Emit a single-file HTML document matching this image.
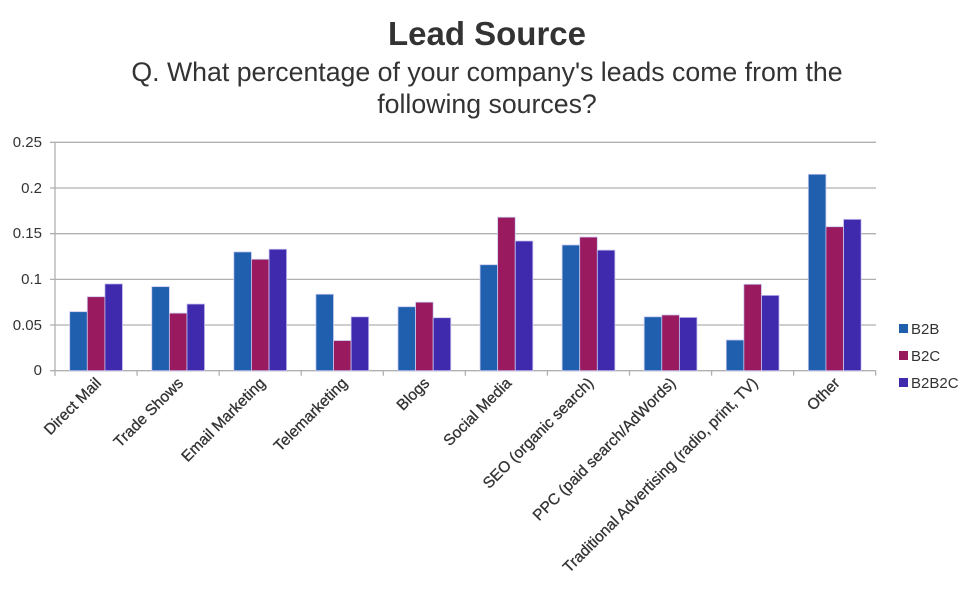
<!DOCTYPE html>
<html><head><meta charset="utf-8"><style>
body{margin:0;background:#fff}
svg{font-family:"Liberation Sans",sans-serif}
</style></head><body>
<svg width="975" height="592" xmlns="http://www.w3.org/2000/svg">
<rect width="975" height="592" fill="#fff"/>
<text x="487" y="45" text-anchor="middle" font-size="33" font-weight="bold" fill="#333">Lead Source</text>
<text x="487" y="81" text-anchor="middle" font-size="26.7" fill="#333">Q. What percentage of your company's leads come from the</text>
<text x="487" y="113" text-anchor="middle" font-size="26.7" fill="#333">following sources?</text>
<g stroke="#b0b0b0" stroke-width="1.3">
<line x1="50" y1="142.3" x2="876" y2="142.3"/>
<line x1="50" y1="188" x2="876" y2="188"/>
<line x1="50" y1="233.7" x2="876" y2="233.7"/>
<line x1="50" y1="279.4" x2="876" y2="279.4"/>
<line x1="50" y1="325" x2="876" y2="325"/>
<line x1="50" y1="370.7" x2="876" y2="370.7"/>
<line x1="55" y1="142.3" x2="55" y2="376"/>
</g>
<g font-size="15" fill="#333" text-anchor="end">
<text x="42" y="147">0.25</text><text x="42" y="193">0.2</text><text x="42" y="238">0.15</text><text x="42" y="284">0.1</text><text x="42" y="330">0.05</text><text x="42" y="375">0</text>
</g>
<g id="bars" stroke="#c8c8f0" stroke-width="0.8"></g>
<g id="ticks" stroke="#b0b0b0" stroke-width="1.3"></g>
<g id="labels" font-size="15.5" fill="#333" stroke="#333" stroke-width="0.3" text-anchor="end"></g>
<g font-size="15" fill="#333">
<rect x="899" y="324" width="9" height="9" fill="#1f5fad"/><text x="911" y="334">B2B</text>
<rect x="899" y="351" width="9" height="9" fill="#9a1a5f"/><text x="911" y="361">B2C</text>
<rect x="899" y="378" width="9" height="9" fill="#3f2aad"/><text x="911" y="388">B2B2C</text>
</g>
<script>
var d=[[.0646,.081,.095],[.092,.063,.073],[.13,.122,.133],[.0837,.033,.059],[.070,.075,.058],[.116,.168,.142],[.1376,.1463,.132],[.059,.061,.0584],[.0336,.0946,.0825],[.215,.1576,.1657]];
var n=["Direct Mail","Trade Shows","Email Marketing","Telemarketing","Blogs","Social Media","SEO (organic search)","PPC (paid search/AdWords)","Traditional Advertising (radio, print, TV)","Other"];
var c=["#1f5fad","#9a1a5f","#3f2aad"],ns="http://www.w3.org/2000/svg";
var B=document.getElementById("bars"),T=document.getElementById("ticks"),L=document.getElementById("labels");
var w=82.07,y0=370.7,k=913.6;
for(var i=0;i<10;i++){var x=55+i*w;
for(var j=0;j<3;j++){var r=document.createElementNS(ns,"rect");var h=d[i][j]*k;
r.setAttribute("x",x+14.7+j*17.6);r.setAttribute("y",y0-h);r.setAttribute("width",17.6);r.setAttribute("height",h);r.setAttribute("fill",c[j]);B.appendChild(r);}
var t=document.createElementNS(ns,"line");t.setAttribute("x1",x+w);t.setAttribute("x2",x+w);t.setAttribute("y1",y0);t.setAttribute("y2",y0+5);T.appendChild(t);
var cx=x+w/2+6,cy=384;var s=document.createElementNS(ns,"text");s.setAttribute("x",cx);s.setAttribute("y",cy);s.setAttribute("transform","rotate(-45 "+cx+" "+cy+")");s.textContent=n[i];L.appendChild(s);}
</script>
</svg>
</body></html>
